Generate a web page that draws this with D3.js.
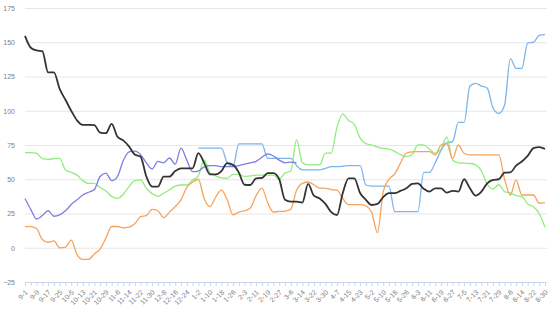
<!DOCTYPE html>
<html>
<head>
<meta charset="utf-8">
<script src="https://cdn.jsdelivr.net/npm/d3@7"></script>
<style>
    body{margin:0;background:#fff;}
    svg{display:block;font-family:"Liberation Sans",Arial,sans-serif;}
</style>
</head>
<body>
<div id="myLine" style="width:557px;height:309px;"></div>
<script>
/*x轴标签，每两个数据点一个*/
var xLabels=["9-1","9-9","9-17","9-25","10-5","10-13","10-21","10-29","11-6","11-14","11-22","11-30","12-8","12-16","12-24","1-2","1-10","1-18","1-26","2-3","2-11","2-19","2-27","3-6","3-14","3-22","3-30","4-7","4-15","4-23","5-2","5-10","5-18","5-26","6-3","6-11","6-19","6-27","7-5","7-13","7-21","7-29","8-6","8-14","8-22","8-30"];
/*y轴刻度*/
var yTicks=[-25,0,25,50,75,100,125,150,175];
/*各条折线数据*/
var seriesBlack=[154.7,146,144,143.5,128,128,116,108,100,93,89.7,89.7,89.5,84,83.6,90.4,81,78.4,74,68,66.5,52,44.6,44.6,51.9,51.9,56,58,58,58,69,62,53.6,53.6,56,61.7,60.5,55,46,45.8,50.7,51,54.4,54.4,50,35,33.6,33.6,33,46.6,38,36,32,26,23.9,40,50.7,50.7,40,35,31.2,32,37,39.8,39.8,41.5,43.4,46.6,47,43,41,43.4,43.4,40.2,41.5,41,50,43.4,38,41,47,49.5,50,54.8,55,60,63,67,72.7,73.5,72.2];
var seriesGreen=[69.5,69.5,69,65,64.5,65,65.3,56.8,55,53,49,47,47,44,41.5,37.5,36,39,44.6,49,49.5,43.4,39.5,37.5,39.8,42.2,45,45.8,45.8,49.5,52.5,64,55,52.5,51,50.7,53.5,53.5,52,52.5,53,53,53,53,50,54.5,56,78.7,62,60.5,60.5,60.5,69,69,88,97.5,93,90,80,76,75,73.5,72.5,72,70.2,68,66.5,68,75.1,75.1,72,69,72,81,64,62,61.7,61.5,60.5,56,46.5,43,46,41,40,38,37.3,32,30,25,15];
var seriesOrange=[15.4,15.4,14,6,4,5,0,0.5,5.6,-5,-8.5,-8.5,-4.5,-1,7,15.5,15.5,14.5,15,17.5,22.7,23.5,28,27,22,26,30,35,44,48,50,36,30,37,42,35,24,26,27,29,38,43.5,33,26,26.5,26.8,28,42,47,48,46,43.5,43.4,42.5,42,36,31.5,31.5,31.5,30.5,26,11,41,50,54,62,69,70,70.2,70.2,70.2,67.8,75,76,65,75,69,67.8,67.8,67.8,67.8,67.8,67.8,50,38.5,49.5,38.5,38.5,38.5,32.5,33];
var seriesPurple=[36,28,21,23.5,27,23,24,27,31.5,35,38.5,40.5,42.5,52,54.5,49,52,63.5,70,70.5,68,62,57.5,63,62,65.5,61,72.7,64,55.6,56,59,60,60,59.2,59.2,59.2,60,61,62,63,66,68.5,67,64,62,62.5,62,
    null,null,null,null,null,null,null,null,null,null,null,null,null,null,null,null,null,null,null,null,null,null,null,null,null,null,null,null,null,null,null,null,null,null,null,null,null,null,null,null,null,null,null];
var seriesBlue=[null,null,null,null,null,null,null,null,null,null,null,null,null,null,null,null,null,null,null,null,null,null,null,null,null,null,null,null,null,null,
    72.7,72.7,72.7,72.7,72.7,62,59.2,75.8,75.8,75.8,75.8,75.8,65.3,65.3,65.3,65.3,65.3,60,56.8,56.8,56.8,56.8,58,59.2,59.2,59.5,60,60,60,45.8,45,45,45,45,26.3,26.3,26.3,26.3,26.3,55,55,62,71,76.5,77.5,91.5,91.5,118,120,118,116.5,102,98,104,138,131,131,149.4,150,155,155.5];

function drawLine(myLine) {
    var svgWidth=557,svgHeight=309;
    /*绘图区边界*/
    var plotLeft=25,plotRight=545,gridRight=547,plotTop=8,plotBottom=282;
    var svg=d3.select("#"+myLine).append("svg")
        .attr("width",svgWidth)
        .attr("height",svgHeight)
        .style("background-color","#fff");
    /*比例尺*/
    var x=d3.scaleLinear()
        .domain([0,seriesBlack.length-1])
        .range([plotLeft,plotRight]);
    var y=d3.scaleLinear()
        .domain([-25,175])
        .range([plotBottom,plotTop]);
    /*y轴与网格线*/
    var yAxis=d3.axisLeft(y)
        .tickValues(yTicks)
        .tickSize(-(gridRight-plotLeft))
        .tickPadding(10);
    var gy=svg.append("g")
        .attr("transform","translate("+plotLeft+",0)")
        .call(yAxis);
    gy.select(".domain").remove();
    gy.selectAll(".tick line").attr("stroke","#e6e6e6");
    gy.selectAll(".tick text")
        .attr("fill","#808080")
        .style("font-size","7px");
    /*x轴*/
    var xAxis=d3.axisBottom(x)
        .tickValues(d3.range(0,seriesBlack.length))
        .tickSize(4)
        .tickSizeOuter(0)
        .tickFormat(function(d){return d%2===0?xLabels[d/2]:"";});
    var gx=svg.append("g")
        .attr("transform","translate(0,"+plotBottom+")")
        .call(xAxis);
    gx.select(".domain").attr("stroke","#ccd6eb");
    gx.selectAll(".tick line").attr("stroke","#ccd6eb");
    gx.selectAll(".tick text")
        .attr("y",0)
        .attr("dy","0.35em")
        .attr("transform","translate(1,9) rotate(-45)")
        .style("text-anchor","end")
        .style("font-size","7px")
        .attr("fill","#808080");
    /*折线*/
    var line=d3.line()
        .defined(function(d){return d!==null;})
        .x(function(d,i){return x(i);})
        .y(function(d){return y(d);})
        .curve(d3.curveMonotoneX);
    var series=[
        {data:seriesBlue,color:"#7cb5ec",width:1.3},
        {data:seriesGreen,color:"#90ed7d",width:1.3},
        {data:seriesOrange,color:"#f7a35c",width:1.3},
        {data:seriesPurple,color:"#7a7fe0",width:1.3},
        {data:seriesBlack,color:"#333333",width:1.8}
    ];
    svg.append("g").selectAll("path")
        .data(series)
        .enter().append("path")
        .attr("fill","none")
        .attr("stroke",function(d){return d.color;})
        .attr("stroke-width",function(d){return d.width;})
        .attr("stroke-linejoin","round")
        .attr("d",function(d){return line(d.data);});
}
drawLine("myLine");
</script>
</body>
</html>
